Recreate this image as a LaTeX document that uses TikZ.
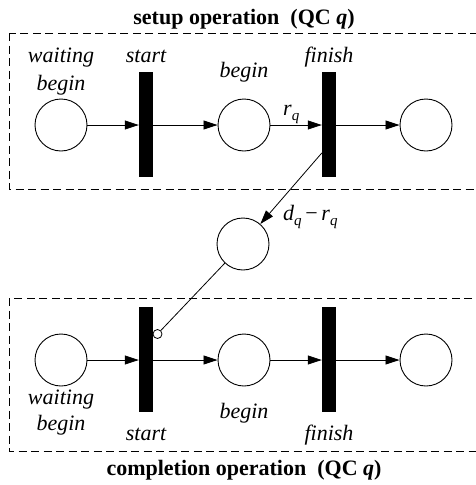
\documentclass[tikz,border=0pt]{standalone}
\usepackage{fontspec}
\setmainfont{Liberation Serif}
\usetikzlibrary{arrows.meta}
\begin{document}
\begin{tikzpicture}[x=1pt,y=-1pt,
  place/.style={draw,circle,line width=0.9pt,minimum size=52pt,inner sep=0pt},
  tbar/.style={fill=black,draw=none,rectangle,minimum width=14pt,minimum height=105pt,inner sep=0pt},
  arc/.style={line width=0.8pt,-{Triangle[length=14pt,width=9pt]}},
  lbl/.style={font=\fontsize{22}{28}\selectfont\itshape,anchor=base,inner sep=0pt},
  ttl/.style={font=\fontsize{22}{26}\selectfont\bfseries,anchor=base,inner sep=0pt},
  group/.style={draw,line width=0.9pt,dash pattern=on 8pt off 4.5pt}]
\useasboundingbox (0,0) rectangle (476,485);
% group boxes
\draw[group] (9,33) rectangle (500,189);
\draw[group] (9,298) rectangle (500,451);
% titles
\node[ttl] (t1) at (244,24) {setup operation\ \ (QC \textit{q})};
\node[ttl] (t2) at (244,475) {completion operation\ \ (QC \textit{q})};
% top row
\node[place] (p1) at (61,125) {};
\node[tbar] (s1) at (146,124.5) {};
\node[place] (p2) at (244,125) {};
\node[tbar] (f1) at (329,124.5) {};
\node[place] (p3) at (426,125) {};
\draw[arc] (p1) -- (p1 -| s1.west);
\draw[arc] (s1.east |- p2) -- (p2);
\draw[arc] (p2) -- (p2 -| f1.west);
\draw[arc] (f1.east |- p3) -- (p3);
% bottom row
\node[place] (q1) at (61,360) {};
\node[tbar] (s2) at (146,359.5) {};
\node[place] (q2) at (244,360) {};
\node[tbar] (f2) at (329,359.5) {};
\node[place] (q3) at (426,360) {};
\draw[arc] (q1) -- (q1 -| s2.west);
\draw[arc] (s2.east |- q2) -- (q2);
\draw[arc] (q2) -- (q2 -| f2.west);
\draw[arc] (f2.east |- q3) -- (q3);
% middle place and arcs
\node[place] (m) at (243,244) {};
\coordinate (fo) at ([yshift=-28.5pt]f1.west);
\draw[arc] (fo) -- (m);
\node[draw,circle,line width=0.8pt,minimum size=9pt,inner sep=0pt,fill=white] (ih) at (157.5,334) {};
\draw[line width=0.8pt] (m) -- (ih);
% labels top
\node[lbl] (lw1) at (61,62.7) {waiting};
\node[lbl] (lb1) at (61,90) {begin};
\node[lbl] (ls1) at (146,62.7) {start};
\node[lbl] (lb2) at (244,77) {begin};
\node[lbl] (lf1) at (329,62.7) {finish};
\node[lbl,anchor=base west] (rq) at (283,115) {r\raisebox{-5pt}{\fontsize{15}{15}\selectfont q}};
\node[lbl,anchor=base west] (dq) at (283,220) {d\raisebox{-5pt}{\fontsize{15}{15}\selectfont q}\,\upshape−\,\itshape r\raisebox{-5pt}{\fontsize{15}{15}\selectfont q}};
% labels bottom
\node[lbl] (lw2) at (61,404) {waiting};
\node[lbl] (lb3) at (61,430) {begin};
\node[lbl] (ls2) at (146,440) {start};
\node[lbl] (lb4) at (244,418) {begin};
\node[lbl] (lf2) at (329,440) {finish};
\end{tikzpicture}
\end{document}
